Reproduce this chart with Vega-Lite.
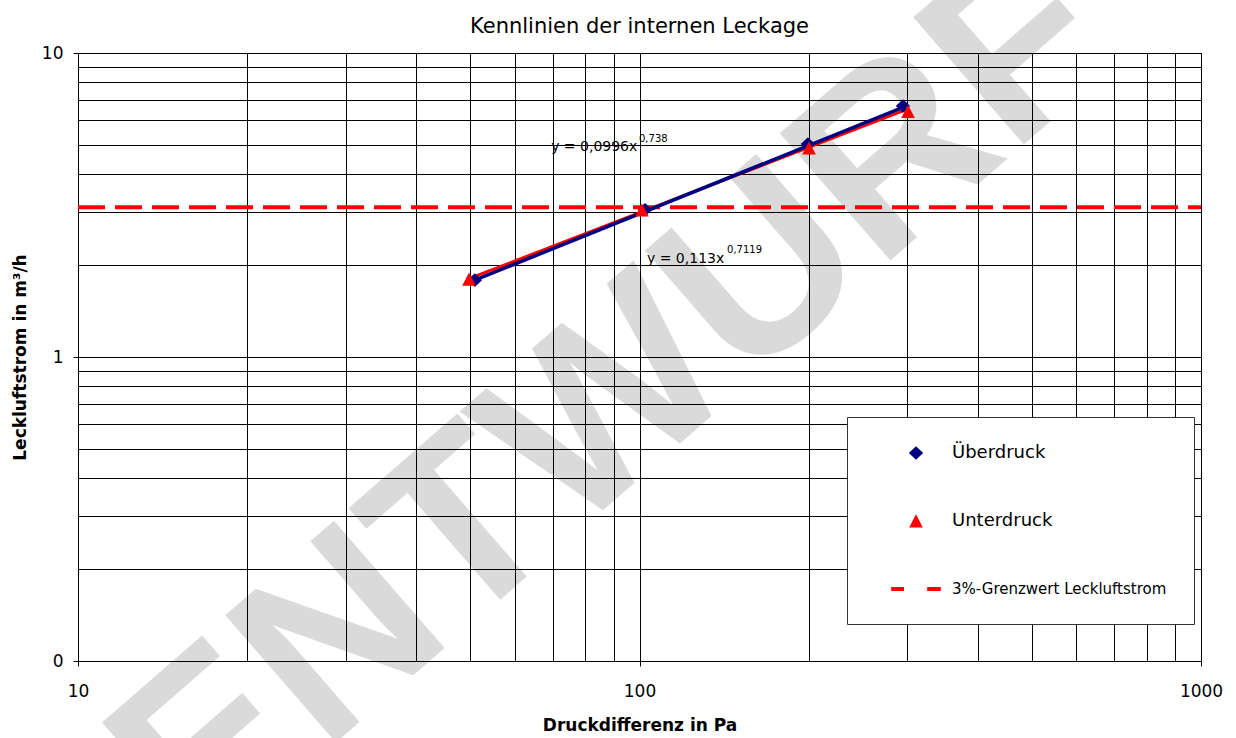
{
  "$schema": "https://vega.github.io/schema/vega-lite/v6.json",
  "width": 1123,
  "height": 608,
  "autosize": {"type": "none"},
  "padding": {"left": 78, "top": 53, "right": 35, "bottom": 77},
  "background": "white",
  "title": {"text": "Kennlinien der internen Leckage", "font": "DejaVu Sans", "fontSize": 21, "fontWeight": "normal", "color": "#000", "anchor": "middle", "frame": "group", "offset": -128},
  "config": {
    "view": {"stroke": "#000", "strokeWidth": 1},
    "axis": {"labelFont": "DejaVu Sans", "labelFontSize": 17, "labelColor": "#000", "titleFont": "DejaVu Sans", "titleFontSize": 17, "titleFontWeight": "bold", "titleColor": "#000", "domainColor": "#000", "tickColor": "#000", "gridColor": "#000", "gridOpacity": 1, "gridWidth": 1, "tickSize": 5, "labelFlush": false, "labelOverlap": false, "labelBound": false},
    "legend": {"orient": "none", "legendX": 769, "legendY": 364, "padding": 27, "fillColor": "#ffffff", "strokeColor": "#333333", "rowPadding": 50, "symbolOffset": 33, "labelOffset": 27, "labelFont": "DejaVu Sans", "labelFontSize": 18, "labelColor": "#000", "labelLimit": 400, "symbolSize": 256, "symbolStrokeWidth": 0}
  },
  "encoding": {
    "x": {"field": "x", "type": "quantitative", "title": "Druckdifferenz in Pa",
      "scale": {"type": "log", "domain": [10, 1000], "nice": false},
      "axis": {"orient": "bottom", "values": [10, 20, 30, 40, 50, 60, 70, 80, 90, 100, 200, 300, 400, 500, 600, 700, 800, 900, 1000], "grid": true,
        "labelExpr": "datum.value == 10 || datum.value == 100 || datum.value == 1000 ? toString(datum.value) : ''",
        "tickOpacity": {"condition": {"test": "datum.value == 10 || datum.value == 100 || datum.value == 1000", "value": 1}, "value": 0},
        "labelPadding": 17, "titlePadding": 18}},
    "y": {"field": "y", "type": "quantitative", "title": "Leckluftstrom in m³/h",
      "scale": {"type": "log", "domain": [0.1, 10], "nice": false},
      "axis": {"orient": "left", "values": [0.1, 0.2, 0.3, 0.4, 0.5, 0.6, 0.7, 0.8, 0.9, 1, 2, 3, 4, 5, 6, 7, 8, 9, 10], "grid": true,
        "labelExpr": "datum.value == 10 ? '10' : datum.value == 1 ? '1' : datum.value == 0.1 ? '0' : ''",
        "tickOpacity": {"condition": {"test": "datum.value == 10 || datum.value == 1 || datum.value == 0.1", "value": 1}, "value": 0},
        "labelPadding": 10, "titlePadding": 12}}
  },
  "layer": [
    {
      "data": {"values": [{"t": "ENTWURF", "x": 90, "y": 0.706}]},
      "mark": {"type": "text", "angle": -41, "font": "Liberation Sans", "fontSize": 245, "fontWeight": "bold", "color": "#000", "opacity": 0.14, "align": "center", "baseline": "middle"},
      "encoding": {"text": {"field": "t"}}
    },
    {
      "data": {"values": [{"x": 10, "x2": 1000, "y": 3.11}]},
      "mark": {"type": "rule", "color": "#ff0000", "strokeWidth": 4, "strokeDash": [27, 10]},
      "encoding": {"x2": {"field": "x2"}}
    },
    {
      "data": {"values": [{"x": 49.7, "y": 1.81}, {"x": 300.8, "y": 6.55}]},
      "mark": {"type": "line", "color": "#ff0000", "strokeWidth": 3},
      "encoding": {}
    },
    {
      "data": {"values": [{"x": 50.9, "y": 1.79}, {"x": 294.6, "y": 6.62}]},
      "mark": {"type": "line", "color": "#000080", "strokeWidth": 3.5},
      "encoding": {}
    },
    {
      "data": {"values": [
        {"series": "Überdruck", "x": 50.9, "y": 1.79},
        {"series": "Überdruck", "x": 102.3, "y": 3.05},
        {"series": "Überdruck", "x": 199.5, "y": 5.02},
        {"series": "Überdruck", "x": 294.6, "y": 6.69},
        {"series": "Unterdruck", "x": 49.7, "y": 1.8},
        {"series": "Unterdruck", "x": 101.0, "y": 3.04},
        {"series": "Unterdruck", "x": 200.4, "y": 4.87},
        {"series": "Unterdruck", "x": 300.8, "y": 6.42}
      ]},
      "mark": {"type": "point", "filled": true, "opacity": 1, "size": 256, "strokeWidth": 0},
      "encoding": {
        "color": {"field": "series", "type": "nominal",
          "scale": {"domain": ["Überdruck", "Unterdruck", "3%-Grenzwert Leckluftstrom"], "range": ["#000080", "#ff0000", "#ff0000"]},
          "legend": {"title": null, "labelFontSize": {"expr": "datum.label == '3%-Grenzwert Leckluftstrom' ? 15 : 18"}}},
        "shape": {"field": "series", "type": "nominal",
          "scale": {"domain": ["Überdruck", "Unterdruck", "3%-Grenzwert Leckluftstrom"], "range": ["M0,-0.85L0.9,0L0,0.85L-0.9,0Z", "M0,-0.85L0.85,0.8L-0.85,0.8Z", "M-3.1,-0.25L-1.5,-0.25L-1.5,0.25L-3.1,0.25Z M1.4,-0.25L3.1,-0.25L3.1,0.25L1.4,0.25Z"]},
          "legend": {"title": null, "labelFontSize": {"expr": "datum.label == '3%-Grenzwert Leckluftstrom' ? 15 : 18"}}}
      }
    },
    {
      "data": {"values": [{"label": "y = 0,0996x", "x": 69.6, "y": 4.778}, {"label": "y = 0,113x", "x": 103.1, "y": 2.043}]},
      "mark": {"type": "text", "font": "DejaVu Sans", "fontSize": 14, "color": "#000", "align": "left", "baseline": "alphabetic"},
      "encoding": {"text": {"field": "label"}}
    },
    {
      "data": {"values": [{"label": "0,738", "x": 99.8, "y": 5.095}, {"label": "0,7119", "x": 143.2, "y": 2.198}]},
      "mark": {"type": "text", "font": "DejaVu Sans", "fontSize": 10, "color": "#000", "align": "left", "baseline": "alphabetic"},
      "encoding": {"text": {"field": "label"}}
    }
  ]
}
